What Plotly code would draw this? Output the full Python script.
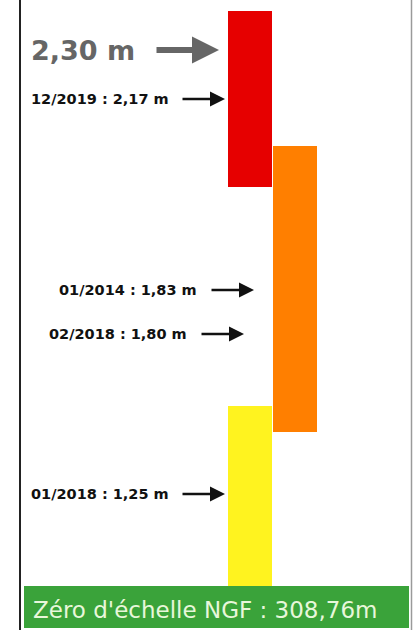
import plotly.graph_objects as go

# ---- data (schematic heights of the vigilance bands and the marked levels) ----
band_names = ["Vigilance jaune", "Vigilance orange", "Vigilance rouge"]
band_column = [0, 1, 0]
band_bottom = [44, 198, 443]
band_top = [224, 484, 619]
band_colors = ["#fff31f", "#ff7f00", "#e60000"]

ref_label = "2,30 m"
ref_level = 580

level_labels = ["12/2019 : 2,17 m", "01/2014 : 1,83 m", "02/2018 : 1,80 m", "01/2018 : 1,25 m"]
level_heights = [531, 340, 296, 136]

zero_label = "Zéro d'échelle NGF : 308,76m"

# ---- figure ----
W, H = 414, 630
fig = go.Figure()
fig.add_trace(go.Bar(
    x=band_column,
    base=band_bottom,
    y=[t - b for t, b in zip(band_top, band_bottom)],
    marker=dict(color=band_colors, line=dict(width=0)),
    width=44 / 45,
    name="bands",
    hovertext=band_names,
    showlegend=False,
))

def px(xp):
    return xp / W

annotations = []
shapes = []

# big reference level
annotations.append(dict(
    x=px(29), y=ref_level, xref="paper", yref="y", xanchor="left", yanchor="middle",
    text="<b>" + ref_label + "</b>", showarrow=False,
    font=dict(family="DejaVu Sans", size=27, color="#666666"),
))
annotations.append(dict(
    x=px(219), y=ref_level, xref="paper", yref="y", text="", showarrow=True,
    ax=-64, ay=0, axref="pixel", ayref="pixel",
    arrowhead=2, arrowsize=0.9, arrowwidth=6, arrowcolor="#666666",
))

# level labels and arrows (text right edge, arrow tip) in pixels
label_right = [171, 199, 189, 171]
arrow_tip = [225, 254, 244, 225]
for lab, lev, rx, tip in zip(level_labels, level_heights, label_right, arrow_tip):
    annotations.append(dict(
        x=px(rx), y=lev, xref="paper", yref="y", xanchor="right", yanchor="middle",
        text="<b>" + lab + "</b>", showarrow=False,
        font=dict(family="DejaVu Sans", size=14.5, color="#111111"),
    ))
    annotations.append(dict(
        x=px(tip), y=lev, xref="paper", yref="y", text="", showarrow=True,
        ax=-44, ay=0, axref="pixel", ayref="pixel",
        arrowhead=2, arrowsize=1.2, arrowwidth=2.5, arrowcolor="#111111",
    ))

# green footer
shapes.append(dict(type="rect", xref="paper", yref="paper",
                   x0=px(24), x1=px(409), y0=1 - 628 / H, y1=1 - 586 / H,
                   fillcolor="#3aa33a", line=dict(width=0), layer="above"))
annotations.append(dict(
    x=px(31), y=1 - 610 / H, xref="paper", yref="paper", xanchor="left", yanchor="middle",
    text=zero_label, showarrow=False,
    font=dict(family="DejaVu Sans", size=23, color="#e8f7da"),
))

# frame lines
shapes.append(dict(type="line", xref="paper", yref="paper",
                   x0=px(20), x1=px(20), y0=0, y1=1, line=dict(color="#222222", width=2)))
shapes.append(dict(type="line", xref="paper", yref="paper",
                   x0=px(411.5), x1=px(411.5), y0=0, y1=1, line=dict(color="#9a9a9a", width=1.5)))

fig.update_layout(
    width=W, height=H,
    margin=dict(l=0, r=0, t=0, b=0),
    paper_bgcolor="white", plot_bgcolor="white",
    xaxis=dict(range=[-250 / 45, (W - 250) / 45], visible=False, fixedrange=True),
    yaxis=dict(range=[0, H], visible=False, fixedrange=True),
    annotations=annotations,
    shapes=shapes,
    bargap=0,
)

fig.write_html("out.html", config={"displayModeBar": False},
               post_script="document.body.style.margin='0';document.body.style.overflow='hidden';")
